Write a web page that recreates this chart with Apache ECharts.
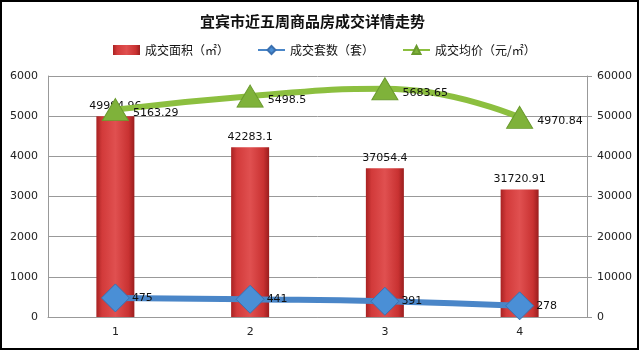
<!DOCTYPE html>
<html><head><meta charset="utf-8">
<script src="https://cdn.jsdelivr.net/npm/echarts@6/dist/echarts.min.js"></script>
<style>html,body{margin:0;padding:0;background:#fff}#c{width:640px;height:351px}</style>
</head><body><div id="c"></div>
<script>
const categories = ['1','2','3','4'];
const areaValues = [49994.96, 42283.1, 37054.4, 31720.91];
const countValues = [475, 441, 391, 278];
const priceValues = [5163.29, 5498.5, 5683.65, 4970.84];
const leftTicks = [0,1000,2000,3000,4000,5000,6000];
const rightTicks = [0,10000,20000,30000,40000,50000,60000];

const chart = echarts.init(document.getElementById('c'), null, {renderer:'canvas'});
const font = '"DejaVu Sans", "Noto Sans CJK SC", sans-serif';
chart.setOption({
  animation:false,
  backgroundColor:'#fff',
  textStyle:{fontFamily:font},
  title:{text:'宜宾市近五周商品房成交详情走势', left:195, top:9,
    textStyle:{fontSize:15, fontWeight:'bold', color:'#111', fontFamily:'"Noto Sans CJK SC", sans-serif'}},
  legend:{top:39, left:108, itemGap:28, itemWidth:27, itemHeight:10,
    textStyle:{fontSize:12, color:'#111', fontFamily:'"Noto Sans CJK SC", sans-serif'},
    data:[{name:'成交面积（㎡）', icon:'rect'},{name:'成交套数（套）'},{name:'成交均价（元/㎡）'}]},
  grid:{left:48, right:53, top:76, bottom:34},
  graphic:[{type:'rect', shape:{x:1,y:1,width:637,height:348}, style:{fill:'none', stroke:'#000', lineWidth:2}, z:100}],
  xAxis:{type:'category', data:categories, boundaryGap:true,
    axisLine:{lineStyle:{color:'#999', width:1}}, axisTick:{show:false},
    axisLabel:{color:'#222', fontSize:11, margin:10}},
  yAxis:[
    {type:'value', min:leftTicks[0], max:leftTicks[leftTicks.length-1], interval:1000,
     axisLine:{show:true, lineStyle:{color:'#999'}}, axisTick:{show:false},
     axisLabel:{color:'#222', fontSize:11, margin:10, formatter:v=>String(v)},
     splitLine:{lineStyle:{color:'#999', width:1}}},
    {type:'value', min:rightTicks[0], max:rightTicks[rightTicks.length-1], interval:10000,
     axisLine:{show:true, lineStyle:{color:'#999'}}, axisTick:{show:true, length:5, lineStyle:{color:'#999'}},
     axisLabel:{color:'#222', fontSize:11, margin:10, formatter:v=>String(v)},
     splitLine:{show:false}}
  ],
  series:[
    {name:'成交面积（㎡）', type:'bar', yAxisIndex:1, data:areaValues, barWidth:38,
     itemStyle:{color:new echarts.graphic.LinearGradient(0,0,1,0,[
       {offset:0,color:'#a82222'},{offset:0.15,color:'#d23a3a'},{offset:0.5,color:'#e05050'},{offset:0.85,color:'#c93232'},{offset:1,color:'#9a1e1e'}]),
       borderColor:'#a02020', borderWidth:0},
     label:{show:true, position:'top', distance:5, color:'#111', fontSize:11}},
    {name:'成交套数（套）', type:'line', yAxisIndex:0, data:countValues, smooth:true,
     symbol:'diamond', symbolSize:[28,28],
     lineStyle:{color:'#4a86c8', width:6},
     itemStyle:{color:'#4a8fd6', borderColor:'#3a70b0', borderWidth:1},
     label:{show:true, position:'right', distance:2, color:'#111', fontSize:11}},
    {name:'成交均价（元/㎡）', type:'line', yAxisIndex:0, data:priceValues, smooth:true,
     symbol:'triangle', symbolSize:[26,22],
     lineStyle:{color:'#8cbf3f', width:6},
     itemStyle:{color:'#7fb23a', borderColor:'#6a9a2e', borderWidth:1},
     label:{show:true, position:'right', distance:4, offset:[0,4], color:'#111', fontSize:11}}
  ]
});
</script></body></html>
